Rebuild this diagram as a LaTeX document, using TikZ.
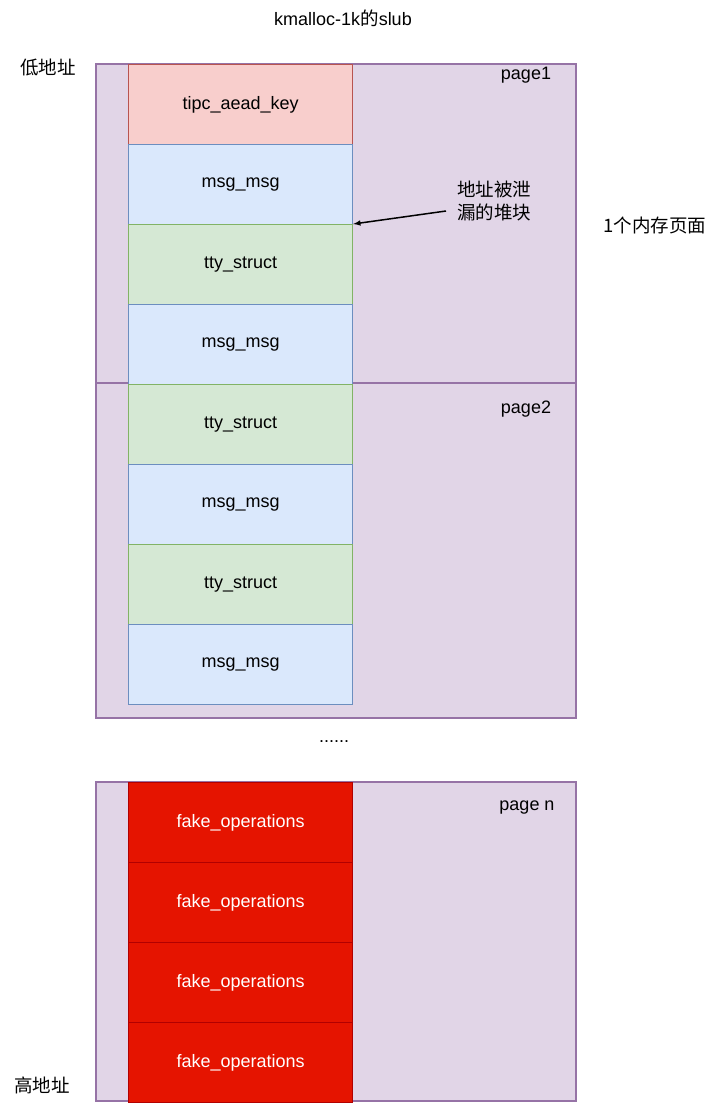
\documentclass[tikz,border=0pt]{standalone}
\usepackage{fontspec}
\setmainfont{Liberation Sans}
\newfontfamily\cjk{Noto Sans CJK SC}
\usetikzlibrary{positioning}

\definecolor{pagefill}{HTML}{E1D5E7}
\definecolor{pageline}{HTML}{9673A6}
\definecolor{keyfill}{HTML}{F8CECC}
\definecolor{keyline}{HTML}{B85450}
\definecolor{msgfill}{HTML}{DAE8FC}
\definecolor{msgline}{HTML}{6C8EBF}
\definecolor{ttyfill}{HTML}{D5E8D4}
\definecolor{ttyline}{HTML}{82B366}
\definecolor{fakefill}{HTML}{E51400}
\definecolor{fakeline}{HTML}{B20000}

\begin{document}
\begin{tikzpicture}[x=1pt,y=-1pt,
    every node/.style={font=\fontsize{18}{22}\selectfont},
    cjktext/.style={font=\cjk\fontsize{18.5}{23}\selectfont},
    pagebox/.style={draw=pageline,fill=pagefill,line width=1.2pt},
    blk/.style={minimum width=224pt,minimum height=80pt,anchor=north west,
      inner sep=0pt,line width=1.2pt},
    key/.style={blk,draw=keyline,fill=keyfill},
    msg/.style={blk,draw=msgline,fill=msgfill},
    tty/.style={blk,draw=ttyline,fill=ttyfill},
    fake/.style={blk,draw=fakeline,fill=fakefill,text=white}]
      \useasboundingbox (0,0) rectangle (720,1103);
      \node (title) at (343,18) {kmalloc-1k{\cjk\fontsize{18.5}{22}\selectfont 的}slub};
      \node[cjktext] (low) at (48,68) {低地址};
      \node[cjktext] (high) at (42,1085) {高地址};

      % pages
      \draw[pagebox] (96,64) rectangle (576,383);
      \draw[pagebox] (96,383) rectangle (576,718);
      \draw[pagebox] (96,782) rectangle (576,1101);
      \node (p1) at (526,75) {page1};
      \node (p2) at (526,409) {page2};
      \node (pn) at (527,808) {page n};
      \node (dots) at (334,742) {......};
      \node[cjktext] (mem) at (655,225) {1个内存页面};

      % objects of the slab
      \foreach \t/\s [count=\i] in {tipc\_aead\_key/key, msg\_msg/msg, tty\_struct/tty,
          msg\_msg/msg, tty\_struct/tty, msg\_msg/msg, tty\_struct/tty, msg\_msg/msg} {
        \node[\s] (b\i) at (128,{64+80*(\i-1)}) {\t};
      }
      \foreach \i in {1,...,4} {
        \node[fake] (f\i) at (128,{782+80*(\i-1)}) {fake\_operations};
      }

      \node[align=center,cjktext] (leak) at (494,201) {地址被泄\\漏的堆块};
      \draw[-latex,line width=1.5pt] (446,211) -- (b3.north east);
\end{tikzpicture}
\end{document}
